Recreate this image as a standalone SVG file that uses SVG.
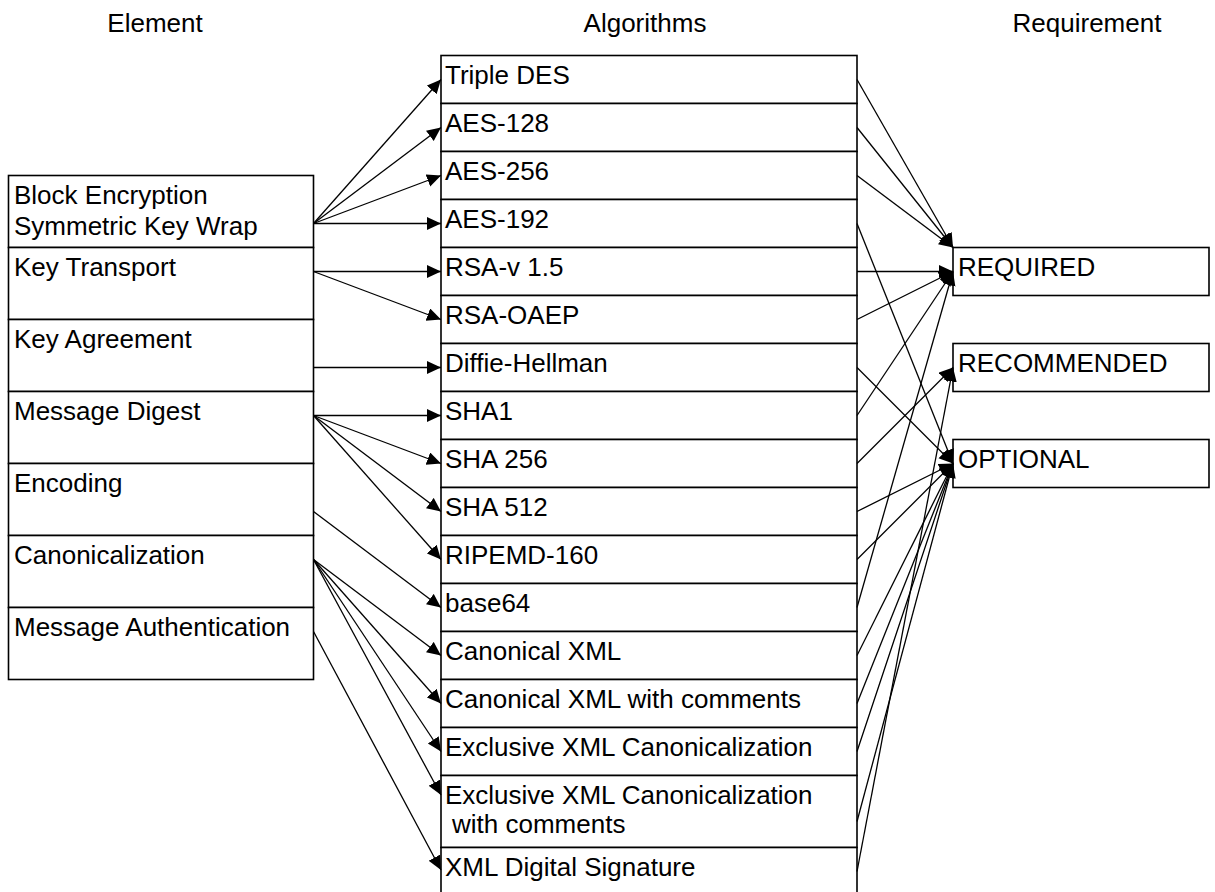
<svg xmlns="http://www.w3.org/2000/svg" width="1215" height="892" viewBox="0 0 1215 892">
  <style>
    .box { fill: #ffffff; stroke: #000000; stroke-width: 1.6; }
    .lbl { font-family: "Liberation Sans", Arial, Helvetica, sans-serif; font-size: 26px; fill: #000000; }
    .hdr { font-family: "Liberation Sans", Arial, Helvetica, sans-serif; font-size: 26px; fill: #000000; text-anchor: middle; }
    .conn line { stroke: #000000; stroke-width: 1.3; fill: none; marker-end: url(#arrow); }
  </style>
  <defs>
    <marker id="arrow" markerUnits="userSpaceOnUse" markerWidth="16" markerHeight="14" refX="14" refY="6.5" orient="auto">
      <path d="M0,0 L14,6.5 L0,13 z" fill="#000000"/>
    </marker>
  </defs>
  <rect width="1215" height="892" fill="#ffffff"/>

  <!-- column headings -->
  <g id="headings">
    <text class="hdr" x="155" y="32">Element</text>
    <text class="hdr" x="645" y="32">Algorithms</text>
    <text class="hdr" x="1087" y="32">Requirement</text>
  </g>

  <!-- element column -->
  <g id="el-block">
    <rect class="box" x="8.5" y="175.5" width="305" height="72"/>
    <text class="lbl" x="14" y="203.5">Block Encryption</text>
    <text class="lbl" x="14" y="234.5">Symmetric Key Wrap</text>
  </g>
  <g id="el-transport">
    <rect class="box" x="8.5" y="247.5" width="305" height="72"/>
    <text class="lbl" x="14" y="275.5">Key Transport</text>
  </g>
  <g id="el-agreement">
    <rect class="box" x="8.5" y="319.5" width="305" height="72"/>
    <text class="lbl" x="14" y="347.5">Key Agreement</text>
  </g>
  <g id="el-digest">
    <rect class="box" x="8.5" y="391.5" width="305" height="72"/>
    <text class="lbl" x="14" y="419.5">Message Digest</text>
  </g>
  <g id="el-encoding">
    <rect class="box" x="8.5" y="463.5" width="305" height="72"/>
    <text class="lbl" x="14" y="491.5">Encoding</text>
  </g>
  <g id="el-c14n">
    <rect class="box" x="8.5" y="535.5" width="305" height="72"/>
    <text class="lbl" x="14" y="563.5">Canonicalization</text>
  </g>
  <g id="el-auth">
    <rect class="box" x="8.5" y="607.5" width="305" height="72"/>
    <text class="lbl" x="14" y="635.5">Message Authentication</text>
  </g>

  <!-- algorithm column -->
  <g id="alg-3des">
    <rect class="box" x="441" y="55.5" width="416" height="48"/>
    <text class="lbl" x="445" y="84">Triple DES</text>
  </g>
  <g id="alg-aes128">
    <rect class="box" x="441" y="103.5" width="416" height="48"/>
    <text class="lbl" x="445" y="132">AES-128</text>
  </g>
  <g id="alg-aes256">
    <rect class="box" x="441" y="151.5" width="416" height="48"/>
    <text class="lbl" x="445" y="180">AES-256</text>
  </g>
  <g id="alg-aes192">
    <rect class="box" x="441" y="199.5" width="416" height="48"/>
    <text class="lbl" x="445" y="228">AES-192</text>
  </g>
  <g id="alg-rsa15">
    <rect class="box" x="441" y="247.5" width="416" height="48"/>
    <text class="lbl" x="445" y="276">RSA-v 1.5</text>
  </g>
  <g id="alg-rsaoaep">
    <rect class="box" x="441" y="295.5" width="416" height="48"/>
    <text class="lbl" x="445" y="324">RSA-OAEP</text>
  </g>
  <g id="alg-dh">
    <rect class="box" x="441" y="343.5" width="416" height="48"/>
    <text class="lbl" x="445" y="372">Diffie-Hellman</text>
  </g>
  <g id="alg-sha1">
    <rect class="box" x="441" y="391.5" width="416" height="48"/>
    <text class="lbl" x="445" y="420">SHA1</text>
  </g>
  <g id="alg-sha256">
    <rect class="box" x="441" y="439.5" width="416" height="48"/>
    <text class="lbl" x="445" y="468">SHA 256</text>
  </g>
  <g id="alg-sha512">
    <rect class="box" x="441" y="487.5" width="416" height="48"/>
    <text class="lbl" x="445" y="516">SHA 512</text>
  </g>
  <g id="alg-ripemd">
    <rect class="box" x="441" y="535.5" width="416" height="48"/>
    <text class="lbl" x="445" y="564">RIPEMD-160</text>
  </g>
  <g id="alg-base64">
    <rect class="box" x="441" y="583.5" width="416" height="48"/>
    <text class="lbl" x="445" y="612">base64</text>
  </g>
  <g id="alg-c14n">
    <rect class="box" x="441" y="631.5" width="416" height="48"/>
    <text class="lbl" x="445" y="660">Canonical XML</text>
  </g>
  <g id="alg-c14n-comments">
    <rect class="box" x="441" y="679.5" width="416" height="48"/>
    <text class="lbl" x="445" y="708">Canonical XML with comments</text>
  </g>
  <g id="alg-exc-c14n">
    <rect class="box" x="441" y="727.5" width="416" height="48"/>
    <text class="lbl" x="445" y="756">Exclusive XML Canonicalization</text>
  </g>
  <g id="alg-exc-c14n-comments">
    <rect class="box" x="441" y="775.5" width="416" height="72"/>
    <text class="lbl" x="445" y="804">Exclusive XML Canonicalization</text>
    <text class="lbl" x="452" y="833">with comments</text>
  </g>
  <g id="alg-xmldsig">
    <rect class="box" x="441" y="847.5" width="416" height="48"/>
    <text class="lbl" x="445" y="876">XML Digital Signature</text>
  </g>

  <!-- requirement column -->
  <g id="req-required">
    <rect class="box" x="953" y="247.5" width="256" height="48"/>
    <text class="lbl" x="958" y="276">REQUIRED</text>
  </g>
  <g id="req-recommended">
    <rect class="box" x="953" y="343.5" width="256" height="48"/>
    <text class="lbl" x="958" y="372">RECOMMENDED</text>
  </g>
  <g id="req-optional">
    <rect class="box" x="953" y="439.5" width="256" height="48"/>
    <text class="lbl" x="958" y="468">OPTIONAL</text>
  </g>

  <!-- connectors -->
  <g id="connectors" class="conn">
    <!-- element to algorithm -->
    <line x1="313.5" y1="223.5" x2="441" y2="79.5"/>
    <line x1="313.5" y1="223.5" x2="441" y2="127.5"/>
    <line x1="313.5" y1="223.5" x2="441" y2="175.5"/>
    <line x1="313.5" y1="223.5" x2="441" y2="223.5"/>
    <line x1="313.5" y1="271.5" x2="441" y2="271.5"/>
    <line x1="313.5" y1="271.5" x2="441" y2="319.5"/>
    <line x1="313.5" y1="367.5" x2="441" y2="367.5"/>
    <line x1="313.5" y1="415.5" x2="441" y2="415.5"/>
    <line x1="313.5" y1="415.5" x2="441" y2="463.5"/>
    <line x1="313.5" y1="415.5" x2="441" y2="511.5"/>
    <line x1="313.5" y1="415.5" x2="441" y2="559.5"/>
    <line x1="313.5" y1="511.5" x2="441" y2="607.5"/>
    <line x1="313.5" y1="559.5" x2="441" y2="655.5"/>
    <line x1="313.5" y1="559.5" x2="441" y2="703.5"/>
    <line x1="313.5" y1="559.5" x2="441" y2="751.5"/>
    <line x1="313.5" y1="559.5" x2="441" y2="795"/>
    <line x1="313.5" y1="631.5" x2="441" y2="870"/>
    <!-- algorithm to requirement -->
    <line x1="857" y1="79.5" x2="953" y2="247.5"/>
    <line x1="857" y1="127.5" x2="953" y2="247.5"/>
    <line x1="857" y1="175.5" x2="953" y2="247.5"/>
    <line x1="857" y1="223.5" x2="953" y2="463.5"/>
    <line x1="857" y1="271.5" x2="953" y2="271.5"/>
    <line x1="857" y1="319.5" x2="953" y2="271.5"/>
    <line x1="857" y1="367.5" x2="953" y2="463.5"/>
    <line x1="857" y1="415.5" x2="953" y2="271.5"/>
    <line x1="857" y1="463.5" x2="953" y2="367.5"/>
    <line x1="857" y1="511.5" x2="953" y2="463.5"/>
    <line x1="857" y1="559.5" x2="953" y2="463.5"/>
    <line x1="857" y1="607.5" x2="953" y2="271.5"/>
    <line x1="857" y1="655.5" x2="953" y2="463.5"/>
    <line x1="857" y1="703.5" x2="953" y2="463.5"/>
    <line x1="857" y1="751.5" x2="953" y2="463.5"/>
    <line x1="857" y1="821.5" x2="953" y2="463.5"/>
    <line x1="857" y1="871.5" x2="953" y2="367.5"/>
  </g>
</svg>
